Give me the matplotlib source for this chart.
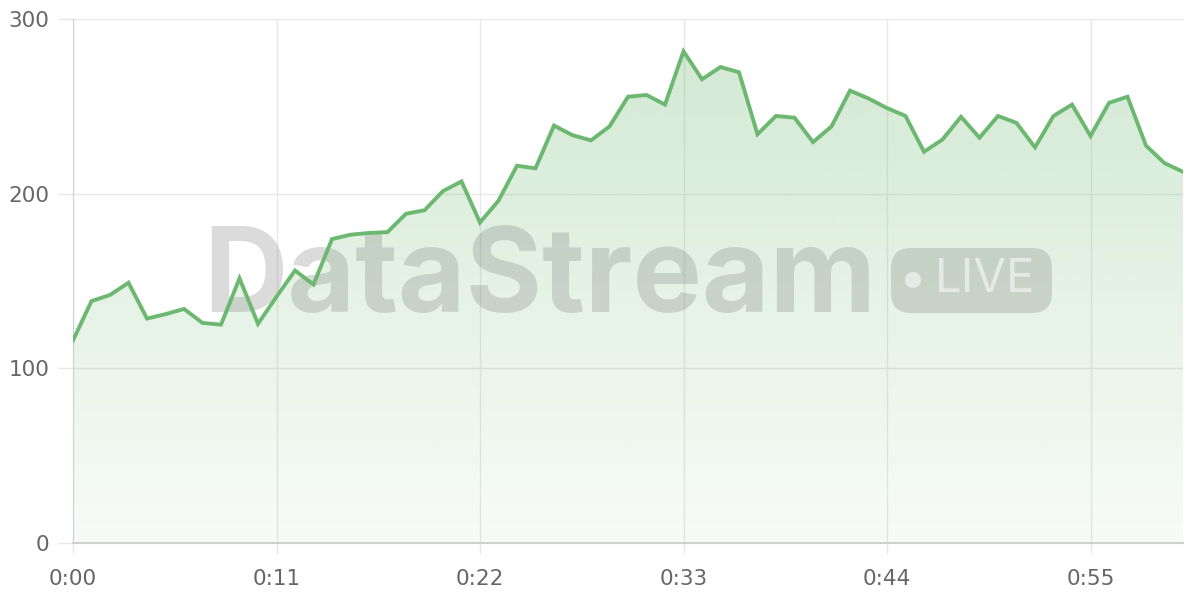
import numpy as np
import matplotlib
matplotlib.use("Agg")
import matplotlib.pyplot as plt
from matplotlib.patches import FancyBboxPatch, Circle
from matplotlib.ticker import FixedLocator, FuncFormatter

# seconds since start, one reading per second
seconds = list(range(61))
values = [116, 138.5, 142, 149, 128.5, 131, 134, 126, 125, 151.5,
          125.5, 141, 156, 148, 174, 176.5, 177.5, 178, 188.5, 190.5,
          201.5, 207, 183.5, 196, 216, 214.5, 239, 233.5, 230.5, 238.5,
          255.5, 256.5, 251, 281.5, 265.5, 272.5, 269.5, 234, 244.5, 243.5,
          229.5, 238.5, 259, 254.5, 249, 244.5, 224, 231, 244, 232,
          244.5, 240.5, 226.5, 244.5, 251, 233, 252, 255.5, 227.5, 217.5,
          212.5]
x_ticks = [0, 11, 22, 33, 44, 55]
y_ticks = [0, 100, 200, 300]

line_color = "#6db870"
text_color = "#666666"
grid_color = "#e8e8e8"

plt.rcParams["font.family"] = ["Inter", "DejaVu Sans"]

fig = plt.figure(figsize=(12, 6), dpi=100)
ax = fig.add_axes([73 / 1200, 57 / 600, 1110 / 1200, 524 / 600])
ax.set_xlim(0, 60)
ax.set_ylim(0, 300)

# gradient fill under the line
rgb = np.array(matplotlib.colors.to_rgb(line_color))
grad = np.zeros((256, 1, 4))
grad[:, 0, :3] = rgb
grad[:, 0, 3] = np.linspace(0.05, 0.32, 256)
im = ax.imshow(grad, extent=[0, 60, 0, 300], origin="lower", aspect="auto", zorder=1)
poly = ax.fill_between(seconds, values, 0, facecolor="none", edgecolor="none")
im.set_clip_path(poly.get_paths()[0], transform=ax.transData)

ax.plot(seconds, values, color=line_color, lw=2.8, zorder=4, solid_joinstyle="miter")

# watermark
ax.text(0.4207, 0.441, "DataStream", transform=ax.transAxes, ha="center", va="baseline",
        fontsize=84, fontweight="bold", color=(0.45, 0.45, 0.45), alpha=0.25, zorder=3)
badge = FancyBboxPatch((8.91, 2.87), 1.61, 0.65, boxstyle="round,pad=0,rounding_size=0.2",
                       transform=fig.dpi_scale_trans, fc=(0.45, 0.45, 0.45), alpha=0.25,
                       ec="none", zorder=3)
ax.add_patch(badge)
dot = Circle((9.13, 3.20), 0.08, transform=fig.dpi_scale_trans, fc="white", alpha=0.55,
             ec="none", zorder=3)
ax.add_patch(dot)
ax.text(9.855, 3.20, "LIVE", transform=fig.dpi_scale_trans, ha="center", va="center",
        fontsize=34, color="white", alpha=0.55, zorder=3)

# axes styling
ax.xaxis.set_major_locator(FixedLocator(x_ticks))
ax.yaxis.set_major_locator(FixedLocator(y_ticks))
ax.xaxis.set_major_formatter(FuncFormatter(lambda v, p: "%d:%02d" % (int(v) // 60, int(v) % 60)))
ax.grid(True, color=grid_color, lw=1, zorder=0)
ax.set_axisbelow(True)
for s in ["top", "right"]:
    ax.spines[s].set_visible(False)
ax.spines["left"].set_color("#d0d0d0")
ax.spines["bottom"].set_color("#d0d0d0")
ax.spines["bottom"].set_linewidth(1.5)
for lab in ax.get_xticklabels() + ax.get_yticklabels():
    lab.set_family("DejaVu Sans")
ax.tick_params(axis="y", length=11, width=1, color=grid_color, pad=6,
               labelsize=15.5, labelcolor=text_color)
ax.tick_params(axis="x", length=8, width=1, color=grid_color, pad=11,
               labelsize=15.5, labelcolor=text_color)

fig.savefig("out.png", dpi=100)
